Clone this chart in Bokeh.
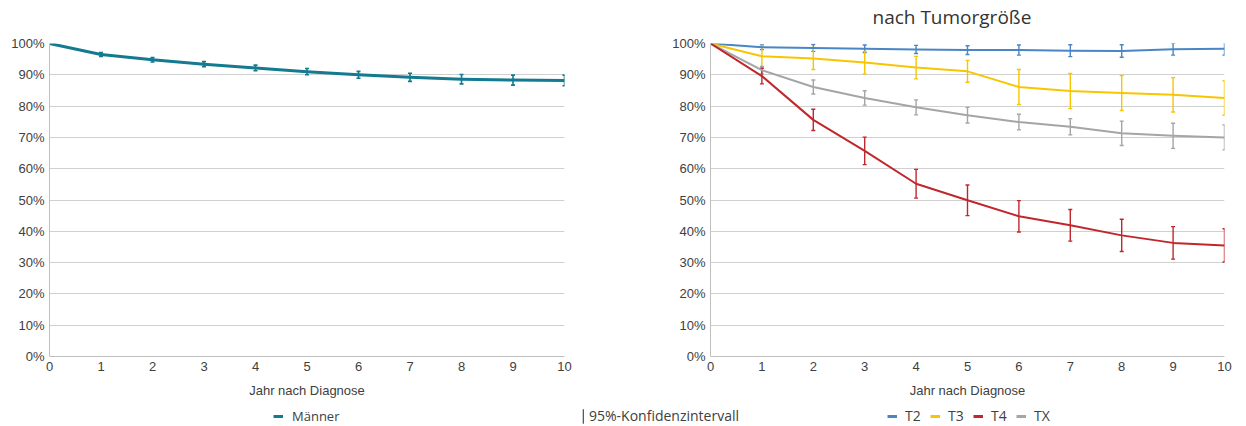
from bokeh.plotting import figure
from bokeh.layouts import column, row
from bokeh.models import (ColumnDataSource, Whisker, TeeHead, Range1d, FixedTicker,
                          PrintfTickFormatter, Label, Legend, LegendItem)
from bokeh.embed import file_html
from bokeh.resources import INLINE

# ---------------- data ----------------
years = [0, 1, 2, 3, 4, 5, 6, 7, 8, 9, 10]
y_ticks = [0, 10, 20, 30, 40, 50, 60, 70, 80, 90, 100]

maenner = [100, 96.5, 94.8, 93.4, 92.2, 91.0, 90.0, 89.2, 88.6, 88.3, 88.2]
maenner_ci = [0, 0.6, 0.7, 0.8, 0.9, 1.0, 1.1, 1.3, 1.5, 1.6, 1.7]

t2 = [100, 98.8, 98.6, 98.3, 98.1, 97.9, 97.9, 97.7, 97.6, 98.2, 98.3]
t2_ci = [0, 0.75, 1.1, 1.2, 1.3, 1.4, 1.6, 1.9, 2.0, 1.9, 2.0]
t3 = [100, 95.9, 95.2, 93.9, 92.3, 91.1, 86.1, 84.8, 84.2, 83.6, 82.6]
t3_ci = [0, 3.3, 3.5, 3.6, 3.6, 3.5, 5.6, 5.6, 5.6, 5.5, 5.5]
t4 = [100, 89.6, 75.6, 65.7, 55.2, 49.9, 44.8, 41.9, 38.7, 36.3, 35.5]
t4_ci = [0, 2.5, 3.4, 4.4, 4.6, 4.9, 5.0, 5.05, 5.15, 5.2, 5.3]
tx = [100, 91.5, 86.1, 82.6, 79.6, 77.1, 74.9, 73.4, 71.3, 70.5, 70.0]
tx_ci = [0, 1.2, 2.25, 2.3, 2.4, 2.5, 2.5, 2.6, 3.9, 4.0, 4.0]

series_labels = ["T2", "T3", "T4", "TX"]
title_text = "nach Tumorgröße"
x_title = "Jahr nach Diagnose"

# ---------------- style ----------------
C_TEAL = "#137a8f"
C_T2 = "#4a86c5"
C_T3 = "#f7c600"
C_T4 = "#c0272d"
C_TX = "#a5a5a5"
TXT = "#404040"
GRID = "#d0d0d0"
AXIS = "#bfbfbf"

W = 1246
TOP_H = 35


def make_fig(frame_w, border_l, border_r):
    p = figure(frame_width=frame_w, frame_height=313,
               min_border_left=border_l, min_border_right=border_r,
               min_border_top=43 - TOP_H, min_border_bottom=46,
               x_range=Range1d(0, 10), y_range=Range1d(0, 100),
               output_backend="svg", toolbar_location=None, tools="")
    p.outline_line_color = None
    p.background_fill_color = "white"
    p.border_fill_color = "white"
    p.xgrid.visible = False
    p.ygrid.grid_line_color = GRID
    p.ygrid.grid_line_width = 1
    p.yaxis.ticker = FixedTicker(ticks=y_ticks)
    p.yaxis.formatter = PrintfTickFormatter(format="%d%%")
    p.xaxis.ticker = FixedTicker(ticks=years)
    p.xaxis.axis_label = x_title
    for ax in p.axis:
        ax.axis_line_color = AXIS
        ax.major_tick_line_color = None
        ax.minor_tick_line_color = None
        ax.major_tick_out = 0
        ax.major_tick_in = 0
        ax.minor_tick_out = 0
        ax.major_label_text_font = "Liberation Sans"
        ax.major_label_text_font_size = "13px"
        ax.major_label_text_color = TXT
        ax.major_label_standoff = 5
        ax.axis_label_text_font = "Liberation Sans"
        ax.axis_label_text_font_size = "13px"
        ax.axis_label_text_font_style = "normal"
        ax.axis_label_text_color = TXT
        ax.axis_label_standoff = 9
    return p


def add_series(p, vals, ci, color, lw, wlw):
    p.line(years, vals, line_color=color, line_width=lw, line_join="round")
    src = ColumnDataSource(dict(
        x=years[1:],
        lower=[v - c for v, c in zip(vals[1:], ci[1:])],
        upper=[v + c for v, c in zip(vals[1:], ci[1:])],
    ))
    w = Whisker(source=src, base="x", lower="lower", upper="upper", dimension="height",
                line_color=color, line_width=wlw,
                upper_head=TeeHead(size=4, line_color=color, line_width=wlw),
                lower_head=TeeHead(size=4, line_color=color, line_width=wlw))
    p.add_layout(w)


def strip(height):
    s = figure(frame_width=W, frame_height=height, min_border=0,
               x_range=Range1d(0, W), y_range=Range1d(height, 0),
               output_backend="svg", toolbar_location=None, tools="",
               x_axis_location=None, y_axis_location=None)
    s.outline_line_color = None
    s.grid.visible = False
    s.background_fill_color = "white"
    s.border_fill_color = "white"
    return s


# title strip
top = strip(TOP_H)
top.add_layout(Label(x=872, y=16.5, text=title_text, text_font="Open Sans",
                     text_font_size="19px", text_color="#333333",
                     text_baseline="alphabetic"))

# left chart
left = make_fig(515, 49, 76)
add_series(left, maenner, maenner_ci, C_TEAL, 3, 1.6)

# right chart
right = make_fig(514, 70, 22)
for vals, ci, col in [(t2, t2_ci, C_T2), (t3, t3_ci, C_T3), (tx, tx_ci, C_TX), (t4, t4_ci, C_T4)]:
    add_series(right, vals, ci, col, 2, 1.4)

# legend strip
LEG_H = 24
lf = strip(LEG_H)
hid_x = [-100, -90]
hid_y = [-100, -100]
r_m = lf.line(x=hid_x, y=hid_y, line_color=C_TEAL, line_width=3)
r_ci = lf.vbar(x=[-100], top=[-100], bottom=[-90], width=1, fill_color="#595959", line_color=None)
r_t = [lf.line(x=hid_x, y=hid_y, line_color=c, line_width=3) for c in [C_T2, C_T3, C_T4, C_TX]]


def style_legend(lg, gw, gh, standoff, spacing, fs):
    lg.orientation = "horizontal"
    lg.padding = 0
    lg.margin = 0
    lg.border_line_color = None
    lg.background_fill_alpha = 0
    lg.glyph_width = gw
    lg.glyph_height = gh
    lg.label_height = 16
    lg.label_standoff = standoff
    lg.spacing = spacing
    lg.label_text_font = "Open Sans"
    lg.label_text_font_size = fs
    lg.label_text_color = TXT


lg1 = Legend(items=[LegendItem(label="Männer", renderers=[r_m])], location=(273, 1))
style_legend(lg1, 10, 16, 9, 0, "13px")
lg2 = Legend(items=[LegendItem(label="95%-Konfidenzintervall", renderers=[r_ci])], location=(582, 1))
style_legend(lg2, 2, 18, 5, 0, "14px")
lg3 = Legend(items=[LegendItem(label=lab, renderers=[r]) for lab, r in zip(series_labels, r_t)],
             location=(887, 1))
style_legend(lg3, 10, 16, 8, 5, "14px")
for lg in (lg1, lg2, lg3):
    lf.add_layout(lg)

layout = column(top, row(left, right), lf)
open("out.html", "w").write(file_html(layout, INLINE))
